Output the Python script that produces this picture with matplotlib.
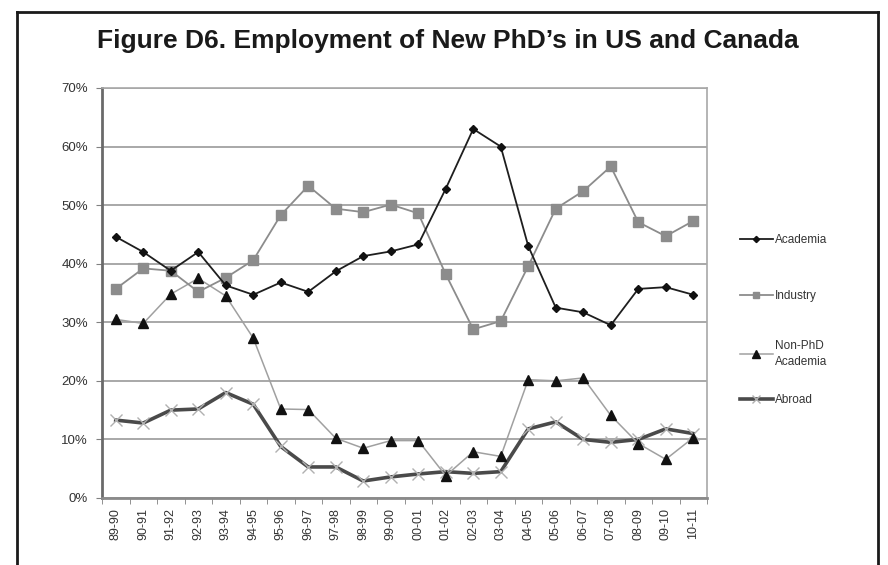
import matplotlib
matplotlib.use("Agg")
import matplotlib.pyplot as plt
from matplotlib.lines import Line2D
from matplotlib.ticker import FixedLocator, PercentFormatter
import numpy as np

plt.rcParams['font.family'] = ['Liberation Sans', 'DejaVu Sans']

years = ["89-90", "90-91", "91-92", "92-93", "93-94", "94-95", "95-96", "96-97",
         "97-98", "98-99", "99-00", "00-01", "01-02", "02-03", "03-04", "04-05",
         "05-06", "06-07", "07-08", "08-09", "09-10", "10-11"]
academia = [44.6, 42.0, 38.8, 42.0, 36.3, 34.7, 36.8, 35.2, 38.7, 41.3, 42.1, 43.3,
            52.8, 63.0, 60.0, 43.0, 32.5, 31.7, 29.5, 35.7, 36.0, 34.7]
industry = [35.7, 39.2, 38.8, 35.2, 37.6, 40.6, 48.3, 53.3, 49.4, 48.8, 50.1, 48.6,
            38.2, 28.8, 30.2, 39.6, 49.4, 52.4, 56.6, 47.1, 44.7, 47.3]
non_phd = [30.5, 29.8, 34.8, 37.5, 34.5, 27.3, 15.2, 15.1, 10.2, 8.5, 9.8, 9.8,
           3.8, 7.9, 7.1, 20.2, 20.0, 20.5, 14.1, 9.3, 6.6, 10.3]
abroad = [13.3, 12.8, 15.0, 15.2, 18.0, 16.0, 8.8, 5.3, 5.3, 2.9, 3.6, 4.1,
          4.5, 4.2, 4.5, 11.8, 13.0, 10.0, 9.5, 10.0, 11.8, 11.0]
y_ticks = [0, 10, 20, 30, 40, 50, 60, 70]

W, H = 888, 565
fig = plt.figure(figsize=(W / 100, H / 100), dpi=100)
fig.patch.set_facecolor('white')

# outer frame (open at bottom)
lc = '#1a1a1a'
fig.add_artist(Line2D([17 / W, 17 / W], [0, 1 - 12 / H], transform=fig.transFigure, color=lc, lw=2))
fig.add_artist(Line2D([878 / W, 878 / W], [0, 1 - 12 / H], transform=fig.transFigure, color=lc, lw=2))
fig.add_artist(Line2D([17 / W, 878 / W], [1 - 12 / H, 1 - 12 / H], transform=fig.transFigure, color=lc, lw=2))

fig.text(448 / W, 1 - 41 / H, "Figure D6. Employment of New PhD\u2019s in US and Canada",
         ha='center', va='center', fontsize=19, fontweight='bold', color='#1a1a1a')

ax = fig.add_axes([102 / W, 1 - 498 / H, (707 - 102) / W, (498 - 88) / H])
x = np.arange(len(years))

ln_non = ax.plot(x, non_phd, color='#a0a0a0', lw=1.1, marker='^', ms=7.5, mfc='#111111', mec='#111111',
                 label='Non-PhD\nAcademia', zorder=3)[0]
ln_abr = ax.plot(x, abroad, color='#4a4a4a', lw=2.6, marker='x', ms=9, mew=1.0, mec='#b0b0b0',
                 label='Abroad', zorder=2)[0]
ln_ind = ax.plot(x, industry, color='#8c8c8c', lw=1.3, marker='s', ms=6.5, mfc='#8c8c8c', mec='#8c8c8c',
                 label='Industry', zorder=3)[0]
ln_aca = ax.plot(x, academia, color='#1e1e1e', lw=1.3, marker='D', ms=4.5, mfc='#111111', mec='#111111',
                 label='Academia', zorder=4)[0]

ax.set_xlim(-0.5, len(years) - 0.5)
ax.set_ylim(0, 70)
ax.yaxis.set_major_locator(FixedLocator(y_ticks))
ax.yaxis.set_major_formatter(PercentFormatter(decimals=0))
ax.grid(axis='y', color='#9a9a9a', lw=1.2)
ax.set_axisbelow(True)

ax.set_xticks(x)
ax.set_xticklabels(years, rotation=90, fontsize=9, color='#333333')
ax.set_xticks(np.arange(-0.5, len(years)), minor=True)
ax.tick_params(axis='x', which='major', length=0, pad=7)
ax.tick_params(axis='x', which='minor', length=4, color='#808080', direction='out')
ax.tick_params(axis='y', length=4, color='#808080', labelsize=9.5, labelcolor='#333333', pad=6)

for s in ['top', 'right']:
    ax.spines[s].set_color('#a8a8a8')
    ax.spines[s].set_linewidth(1.2)
ax.spines['left'].set_color('#6a6a6a')
ax.spines['left'].set_linewidth(2)
ax.spines['bottom'].set_color('#8a8a8a')
ax.spines['bottom'].set_linewidth(2)

# legend: one entry per legend so each sits at its own height
entries = [(ln_aca, 'Academia', 240), (ln_ind, 'Industry', 296),
           (ln_non, 'Non-PhD\nAcademia', 354), (ln_abr, 'Abroad', 400)]
for h, lab, ypix in entries:
    leg = fig.legend([h], [lab], loc='center left', bbox_to_anchor=(734 / W, 1 - ypix / H),
                     frameon=False, fontsize=8.5, handlelength=2.8, handletextpad=0.2,
                     markerscale=0.7, borderpad=0)
    for t in leg.get_texts():
        t.set_color('#333333')
        t.set_linespacing(1.45)

fig.savefig("out.png", dpi=100, facecolor='white')
